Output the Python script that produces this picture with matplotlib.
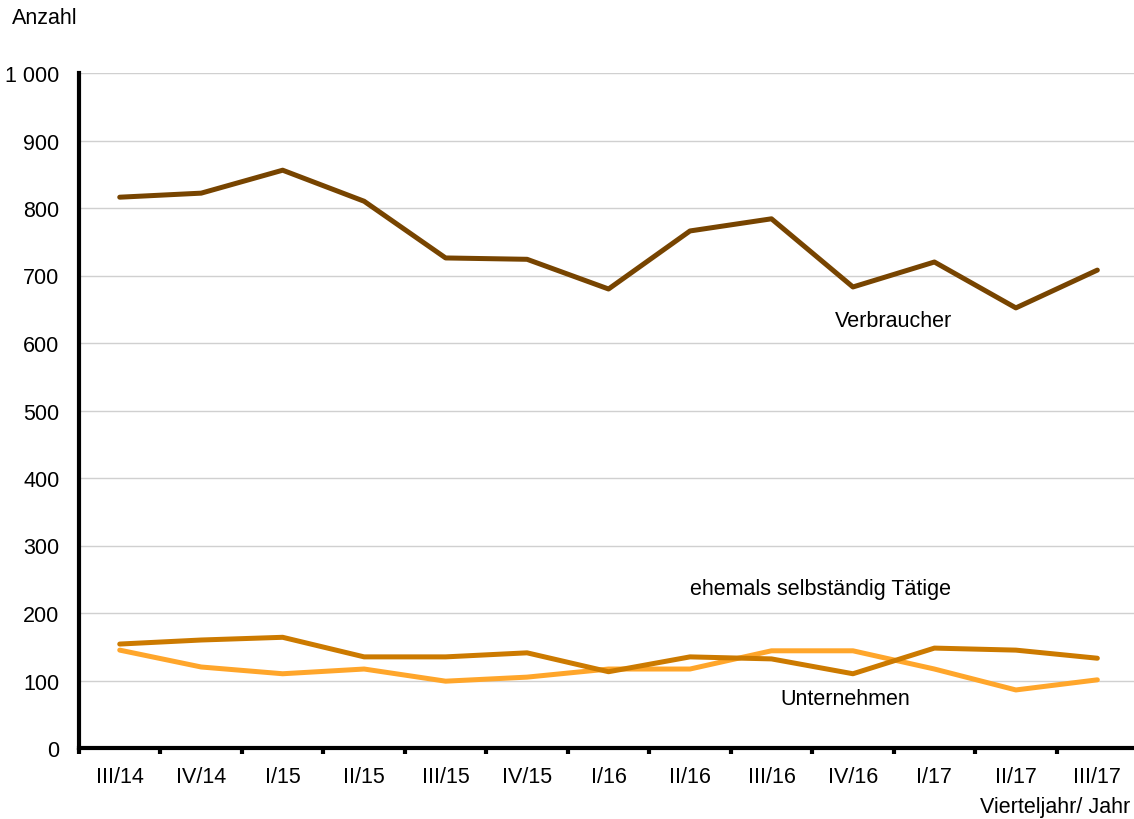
import matplotlib
matplotlib.use("Agg")
import matplotlib.pyplot as plt
import numpy as np

plt.rcParams['font.family'] = ['Liberation Sans', 'DejaVu Sans']

# Daten
quartale = ["III/14", "IV/14", "I/15", "II/15", "III/15", "IV/15", "I/16",
            "II/16", "III/16", "IV/16", "I/17", "II/17", "III/17"]
verbraucher = [816, 822, 856, 810, 726, 724, 680, 766, 784, 683, 720, 652, 708]
ehemals = [154, 160, 164, 135, 135, 141, 113, 135, 132, 110, 148, 145, 133]
unternehmen = [145, 120, 110, 117, 99, 105, 117, 117, 144, 144, 117, 86, 101]

y_ticks = [0, 100, 200, 300, 400, 500, 600, 700, 800, 900, 1000]

fs = 15.5

fig = plt.figure(figsize=(11.34, 8.2), dpi=100)
ax = fig.add_axes([79/1134, 1 - 749/820, 1 - 79/1134, (749 - 74)/820])

x = np.arange(len(quartale))

ax.plot(x, verbraucher, color='#774400', lw=3.6, solid_capstyle='round', zorder=3)
ax.plot(x, ehemals, color='#cc7a00', lw=3.6, solid_capstyle='round', zorder=3)
ax.plot(x, unternehmen, color='#ffa62b', lw=3.6, solid_capstyle='round', zorder=2)

ax.set_xlim(-0.5, 12.45)
ax.set_ylim(0, 1000)

ax.set_yticks(y_ticks)
ax.set_yticklabels([f"{v:,}".replace(",", " ") for v in y_ticks])
ax.yaxis.grid(True, color='#d0d0d0', lw=1)
ax.set_axisbelow(True)

ax.set_xticks(x)
ax.set_xticklabels(quartale)
ax.set_xticks(np.arange(-0.5, 12.5, 1), minor=True)
ax.tick_params(axis='x', which='major', length=0, pad=13, labelsize=fs)
ax.tick_params(axis='x', which='minor', length=4, width=3, direction='out')
ax.tick_params(axis='y', length=0, pad=14, labelsize=fs)

for s in ['top', 'right']:
    ax.spines[s].set_visible(False)
ax.spines['left'].set_linewidth(3)
ax.spines['bottom'].set_linewidth(3)

fig.text(12/1134, 1 - 19/820, "Anzahl", fontsize=fs, ha='left', va='center')
fig.text(1130/1134, 1 - 808/820, "Vierteljahr/ Jahr", fontsize=fs, ha='right', va='center')

ax.text(9.5, 634, "Verbraucher", fontsize=fs, ha='center', va='center')
ax.text(8.6, 237, "ehemals selbständig Tätige", fontsize=fs, ha='center', va='center')
ax.text(8.9, 74, "Unternehmen", fontsize=fs, ha='center', va='center')

fig.savefig("out.png", dpi=100)
